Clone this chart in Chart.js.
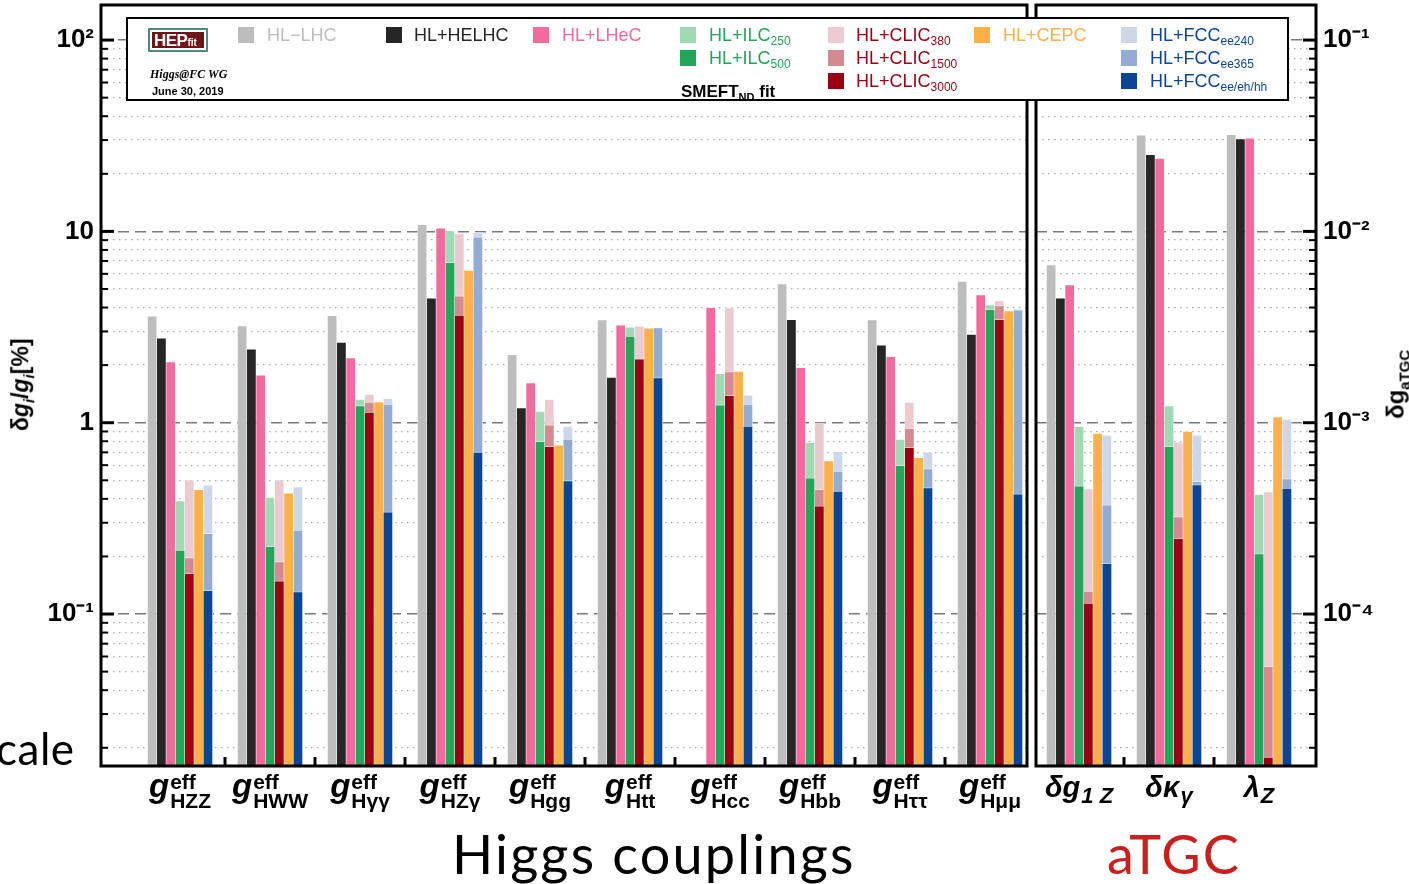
<!DOCTYPE html>
<html>
<head>
<meta charset="utf-8">
<script src="https://cdn.jsdelivr.net/npm/chart.js@4.4.1/dist/chart.umd.min.js"></script>
<style>
  body { margin: 0; width: 1409px; height: 884px; overflow: hidden; position: relative; background: #fff;
         font-family: 'Liberation Sans', Arial, sans-serif; }
  #leftChart { position: absolute; left: 0; top: 0; }
  #rightChart { position: absolute; left: 1031px; top: 0; }
  #legend { position: absolute; left: 126px; top: 17px; width: 1163px; height: 84px; box-sizing: border-box;
            border: 2px solid #000; background: #fff; z-index: 5; }
  #legend .sq { position: absolute; width: 16px; height: 16px; }
  #legend .lb { position: absolute; font-size: 18px; line-height: 16px; white-space: nowrap; }
  #legend .lb sub { font-size: 12px; vertical-align: -4px; line-height: 0; }
  .logo { position: absolute; left: 20px; top: 9px; width: 60px; height: 24px; box-sizing: border-box;
          border: 2px solid #4d8a80; background: #fff; padding: 2px; }
  .logo div { background: #6e1416; color: #fff; height: 16px; font-weight: bold; font-size: 17px; line-height: 17px;
              padding-left: 2px; letter-spacing: -0.5px; }
  .logo span { font-size: 10px; letter-spacing: 0; }
  .note { position: absolute; font-weight: bold; white-space: nowrap; }
  .ytitle { position: absolute; font-weight: bold; white-space: nowrap; transform: rotate(-90deg); transform-origin: center; }
  .ytitle sub { font-size: 15px; }
  .big { position: absolute; font-family: Lato, 'Noto Sans', sans-serif; font-weight: 400; white-space: nowrap; }
</style>
</head>
<body>
<canvas id="leftChart" width="1032" height="884"></canvas>
<canvas id="rightChart" width="378" height="884"></canvas>

<div id="legend">
  <div class="logo"><div>HEP<span>fit</span></div></div>
  <div class="note" style="left:22px;top:48px;font-family:'Liberation Serif',serif;font-style:italic;font-size:12px">Higgs@FC WG</div>
  <div class="note" style="left:24px;top:66px;font-size:11px">June 30, 2019</div>
  <div class="note" style="left:553px;top:63px;font-size:17px">SMEFT<sub style="font-size:11px">ND</sub> fit</div>

  <div class="sq" style="left:110px;top:8px;background:#bdbdbd"></div>
  <div class="lb" style="left:139px;top:8px;color:#bdbdbd">HL−LHC</div>
  <div class="sq" style="left:258px;top:8px;background:#262626"></div>
  <div class="lb" style="left:286px;top:8px;color:#262626">HL+HELHC</div>
  <div class="sq" style="left:405px;top:8px;background:#f26a9e"></div>
  <div class="lb" style="left:434px;top:8px;color:#f26a9e">HL+LHeC</div>

  <div class="sq" style="left:552px;top:8px;background:#a0dab5"></div>
  <div class="lb" style="left:581px;top:8px;color:#23a55a">HL+ILC<sub>250</sub></div>
  <div class="sq" style="left:552px;top:31px;background:#23a55a"></div>
  <div class="lb" style="left:581px;top:31px;color:#23a55a">HL+ILC<sub>500</sub></div>

  <div class="sq" style="left:700px;top:8px;background:#ebcbcf"></div>
  <div class="lb" style="left:728px;top:8px;color:#9b0014">HL+CLIC<sub>380</sub></div>
  <div class="sq" style="left:700px;top:31px;background:#d48a90"></div>
  <div class="lb" style="left:728px;top:31px;color:#9b0014">HL+CLIC<sub>1500</sub></div>
  <div class="sq" style="left:700px;top:54px;background:#9b0014"></div>
  <div class="lb" style="left:728px;top:54px;color:#9b0014">HL+CLIC<sub>3000</sub></div>

  <div class="sq" style="left:846px;top:8px;background:#fbb04a"></div>
  <div class="lb" style="left:875px;top:8px;color:#fbb04a">HL+CEPC</div>

  <div class="sq" style="left:993px;top:8px;background:#ccd8ea"></div>
  <div class="lb" style="left:1022px;top:8px;color:#0a4694">HL+FCC<sub>ee240</sub></div>
  <div class="sq" style="left:993px;top:31px;background:#93acd1"></div>
  <div class="lb" style="left:1022px;top:31px;color:#0a4694">HL+FCC<sub>ee365</sub></div>
  <div class="sq" style="left:993px;top:54px;background:#0a4694"></div>
  <div class="lb" style="left:1022px;top:54px;color:#0a4694">HL+FCC<sub>ee/eh/hh</sub></div>
</div>

<div class="ytitle" style="left:-43px;top:370px;width:130px;text-align:center;font-size:23px">δ<i>g<sub>i</sub></i>/<i>g<sub>i</sub></i>[%]</div>
<div class="ytitle" style="left:1352px;top:369px;width:90px;text-align:center;font-size:24px">δg<sub>aTGC</sub></div>

<div class="big" style="left:-4px;top:722px;font-size:44px;letter-spacing:0.5px">cale</div>
<div class="big" style="left:452px;top:821px;font-size:54px;letter-spacing:2.2px">Higgs couplings</div>
<div class="big" style="left:1107px;top:821px;font-size:54px;letter-spacing:2px;color:#c8201e">aTGC</div>

<script>
// Higgs couplings, relative precision in %
const higgsCouplings = ['HZZ', 'HWW', 'Hγγ', 'HZγ', 'Hgg', 'Htt', 'Hcc', 'Hbb', 'Hττ', 'Hμμ'];
const hlLhc    = [3.62, 3.22, 3.64, 10.9, 2.28, 3.46, null, 5.34, 3.46, 5.50];
const hlHelhc  = [2.78, 2.43, 2.64, 4.49, 1.20, 1.73, null, 3.47, 2.55, 2.91];
const hlLhec   = [2.09, 1.78, 2.19, 10.45, 1.62, 3.25, 4.01, 1.95, 2.22, 4.67];
const ilc250   = [0.392, 0.409, 1.33, 10.1, 1.15, 3.17, 1.81, 0.793, 0.82, 4.15];
const ilc500   = [0.216, 0.226, 1.23, 6.89, 0.80, 2.84, 1.24, 0.515, 0.598, 3.91];
const clic380  = [0.505, 0.505, 1.41, 9.77, 1.33, 3.21, 4.0, 1.0, 1.28, 4.36];
const clic1500 = [0.197, 0.188, 1.28, 4.61, 0.975, 2.17, 1.85, 0.449, 0.935, 4.10];
const clic3000 = [0.163, 0.149, 1.135, 3.65, 0.753, 2.16, 1.39, 0.368, 0.744, 3.47];
const cepc     = [0.449, 0.430, 1.29, 6.27, 0.767, 3.13, 1.86, 0.634, 0.659, 3.86];
const fcc240   = [0.474, 0.464, 1.34, 9.89, 0.96, 3.16, 1.40, 0.708, 0.705, 3.94];
const fcc365   = [0.264, 0.275, 1.25, 9.37, 0.82, 3.14, 1.25, 0.559, 0.575, 3.89];
const fccAll   = [0.133, 0.131, 0.342, 0.702, 0.498, 1.72, 0.96, 0.439, 0.458, 0.425];

// anomalous triple gauge couplings, absolute precision
const atgcParams = ['δg1Z', 'δκγ', 'λZ'];
const atgcHlLhc    = [6.71e-3, 32.0e-3, 32.2e-3];
const atgcHlHelhc  = [4.50e-3, 25.3e-3, 30.6e-3];
const atgcHlLhec   = [5.28e-3, 24.2e-3, 30.8e-3];
const atgcIlc250   = [0.956e-3, 1.23e-3, 0.424e-3];
const atgcIlc500   = [0.468e-3, 0.752e-3, 0.207e-3];
const atgcClic380  = [0.452e-3, 0.795e-3, 0.436e-3];
const atgcClic1500 = [0.132e-3, 0.323e-3, 0.0533e-3];
const atgcClic3000 = [0.114e-3, 0.249e-3, 0.0179e-3];
const atgcCepc     = [0.883e-3, 0.905e-3, 1.078e-3];
const atgcFcc240   = [0.865e-3, 0.865e-3, 1.046e-3];
const atgcFcc365   = [0.372e-3, 0.494e-3, 0.51e-3];
const atgcFccAll   = [0.184e-3, 0.475e-3, 0.456e-3];

// y tick labels
const leftTickValues = [100, 10, 1, 0.1];
const leftTickText = ['10²', '10', '1', '10⁻¹'];
const rightTickValues = [0.1, 0.01, 0.001, 0.0001];
const rightTickText = ['10⁻¹', '10⁻²', '10⁻³', '10⁻⁴'];

const yMinPct = 0.01606;
const yMaxPct = 152.5;

// one entry per collider scenario; same stack = drawn in the same slot, lower order on top
const scenarios = [
  { higgs: hlLhc,    atgc: atgcHlLhc,    color: '#bdbdbd', stack: 's0', order: 0 },
  { higgs: hlHelhc,  atgc: atgcHlHelhc,  color: '#262626', stack: 's1', order: 0 },
  { higgs: hlLhec,   atgc: atgcHlLhec,   color: '#f26a9e', stack: 's2', order: 0 },
  { higgs: ilc500,   atgc: atgcIlc500,   color: '#23a55a', stack: 's3', order: 0 },
  { higgs: ilc250,   atgc: atgcIlc250,   color: '#a0dab5', stack: 's3', order: 1 },
  { higgs: clic3000, atgc: atgcClic3000, color: '#9b0014', stack: 's4', order: 0 },
  { higgs: clic1500, atgc: atgcClic1500, color: '#d48a90', stack: 's4', order: 1 },
  { higgs: clic380,  atgc: atgcClic380,  color: '#ebcbcf', stack: 's4', order: 2 },
  { higgs: cepc,     atgc: atgcCepc,     color: '#fbb04a', stack: 's5', order: 0 },
  { higgs: fccAll,   atgc: atgcFccAll,   color: '#0a4694', stack: 's6', order: 0 },
  { higgs: fcc365,   atgc: atgcFcc365,   color: '#93acd1', stack: 's6', order: 1 },
  { higgs: fcc240,   atgc: atgcFcc240,   color: '#ccd8ea', stack: 's6', order: 2 }
];

const isDecade = v => Math.abs(Math.log10(v) - Math.round(Math.log10(v))) < 1e-6;

function logTicks(min, max) {
  const out = [];
  for (let e = Math.floor(Math.log10(min)); e <= Math.ceil(Math.log10(max)); e++) {
    for (let m = 1; m <= 9; m++) {
      const v = m * Math.pow(10, e);
      if (v >= min && v <= max) out.push({ value: v });
    }
  }
  return out;
}

// frame, inward axis ticks and short ticks between coupling groups
const framePlugin = {
  id: 'frame',
  afterDatasetsDraw(chart, args, opts) {
    const { ctx, chartArea: a, scales: { x, y } } = chart;
    ctx.save();
    ctx.strokeStyle = '#000';
    y.ticks.forEach(t => {
      const py = y.getPixelForValue(t.value);
      const major = isDecade(t.value);
      const len = major ? 13 : 7;
      ctx.lineWidth = major ? 3 : 2;
      ctx.beginPath();
      if (opts.side === 'left') { ctx.moveTo(a.left, py); ctx.lineTo(a.left + len, py); }
      else { ctx.moveTo(a.right, py); ctx.lineTo(a.right - len, py); }
      ctx.stroke();
    });
    ctx.lineWidth = 3;
    for (let i = 0; i < opts.groups - 1; i++) {
      const px = x.getPixelForValue(i + 0.5);
      ctx.beginPath();
      ctx.moveTo(px, a.bottom);
      ctx.lineTo(px, a.bottom - 9);
      ctx.stroke();
    }
    ctx.strokeRect(a.left, a.top, a.right - a.left, a.bottom - a.top);
    ctx.restore();
  }
};

// coupling names under each group: big symbol, superscript and subscript
const groupLabelPlugin = {
  id: 'groupLabels',
  afterDraw(chart, args, opts) {
    const { ctx, scales: { x } } = chart;
    ctx.save();
    ctx.fillStyle = '#000';
    ctx.textBaseline = 'alphabetic';
    opts.items.forEach((it, i) => {
      const cx = x.getPixelForValue(i);
      ctx.font = opts.mainFont;
      const wMain = ctx.measureText(it.main).width;
      ctx.font = opts.supFont;
      const wSup = it.sup ? ctx.measureText(it.sup).width : 0;
      ctx.font = opts.subFont;
      const wSub = ctx.measureText(it.sub).width;
      const left = cx - (wMain + 1 + Math.max(wSup, wSub)) / 2;
      ctx.font = opts.mainFont;
      ctx.fillText(it.main, left, opts.mainY);
      if (it.sup) {
        ctx.font = opts.supFont;
        ctx.fillText(it.sup, left + wMain + 1, opts.supY);
      }
      ctx.font = opts.subFont;
      ctx.fillText(it.sub, left + wMain + 1, opts.subY);
    });
    ctx.restore();
  }
};

function buildChart(canvasId, cfg) {
  const datasets = scenarios.map(s => ({
    data: s[cfg.key].map((v, i) => ({ x: i, y: v })),
    backgroundColor: s.color,
    borderColor: 'rgba(255,255,255,0.45)',
    borderWidth: { top: 1, left: 0.6, right: 0.6, bottom: 0 },
    borderSkipped: false,
    stack: s.stack,
    order: s.order,
    barThickness: 9.3
  }));

  return new Chart(document.getElementById(canvasId), {
    type: 'bar',
    data: { datasets },
    plugins: [framePlugin, groupLabelPlugin],
    options: {
      responsive: false,
      animation: false,
      devicePixelRatio: 1,
      layout: { padding: cfg.padding },
      plugins: {
        legend: { display: false },
        tooltip: { enabled: false },
        frame: { side: cfg.side, groups: cfg.items.length },
        groupLabels: {
          items: cfg.items,
          mainFont: cfg.mainFont,
          supFont: 'bold 21px "Liberation Sans"',
          subFont: cfg.subFont,
          mainY: 797, supY: 789, subY: cfg.subY
        }
      },
      scales: {
        x: {
          type: 'linear',
          offset: false,
          min: cfg.xMin,
          max: cfg.xMax,
          grid: { display: false },
          border: { display: false },
          ticks: { display: false },
          afterFit: s => {
            s.height = 118;
            s.paddingLeft = 0;
            s.paddingRight = 0;
          }
        },
        y: {
          type: 'logarithmic',
          position: cfg.side,
          stacked: false,
          min: cfg.yMin,
          max: cfg.yMax,
          afterBuildTicks: s => { s.ticks = logTicks(cfg.yMin, cfg.yMax); },
          afterFit: s => {
            s.width = cfg.axisWidth;
            s.paddingTop = 0;
            s.paddingBottom = 0;
          },
          border: {
            display: false,
            dash: c => isDecade(c.tick.value) ? [11, 6] : [1.5, 4.5]
          },
          grid: {
            drawTicks: false,
            lineWidth: c => isDecade(c.tick.value) ? 1.4 : 1.3,
            color: c => isDecade(c.tick.value) ? '#7a7a7a' : '#a8a8a8'
          },
          ticks: {
            autoSkip: false,
            padding: 7,
            color: '#000',
            font: { family: 'Liberation Sans', weight: 'bold', size: 26 },
            callback: v => {
              const k = cfg.tickValues.findIndex(t => Math.abs(Math.log10(t) - Math.log10(v)) < 1e-6);
              return k >= 0 ? cfg.tickText[k] : '';
            }
          }
        }
      }
    }
  });
}

buildChart('leftChart', {
  key: 'higgs',
  side: 'left',
  padding: { left: 0, top: 5, right: 5, bottom: 0 },
  axisWidth: 101,
  xMin: -79 / 90,
  xMax: -79 / 90 + 926 / 90,
  yMin: yMinPct,
  yMax: yMaxPct,
  tickValues: leftTickValues,
  tickText: leftTickText,
  mainFont: 'italic bold 33px "Liberation Sans"',
  subFont: 'bold 21px "Liberation Sans"',
  subY: 808,
  items: higgsCouplings.map(c => ({ main: 'g', sup: 'eff', sub: c }))
});

buildChart('rightChart', {
  key: 'atgc',
  side: 'right',
  padding: { left: 5, top: 5, right: 0, bottom: 0 },
  axisWidth: 93,
  xMin: -43 / 90,
  xMax: -43 / 90 + 280 / 90,
  yMin: yMinPct / 1000,
  yMax: yMaxPct / 1000,
  tickValues: rightTickValues,
  tickText: rightTickText,
  mainFont: 'italic bold 29px "Liberation Sans"',
  subFont: 'italic bold 22px "Liberation Sans"',
  subY: 803,
  items: [
    { main: 'δg', sub: '1 Z' },
    { main: 'δκ', sub: 'γ' },
    { main: 'λ', sub: 'Z' }
  ]
});
</script>
</body>
</html>
